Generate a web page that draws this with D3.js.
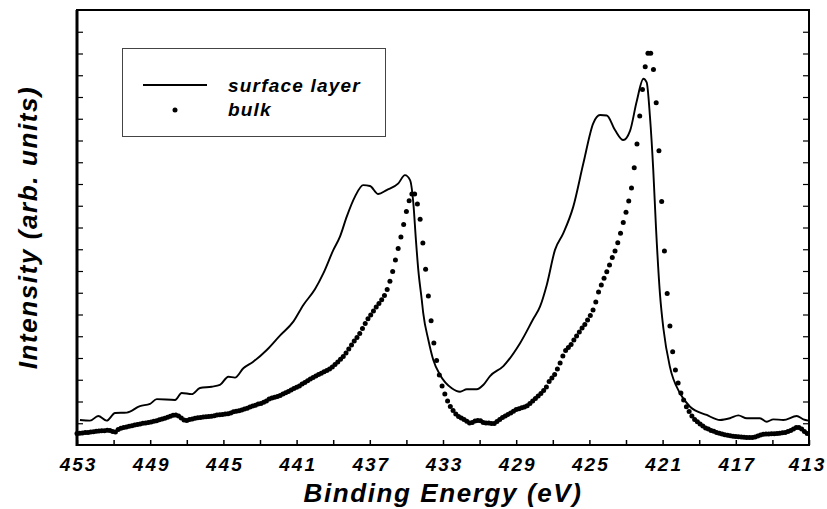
<!DOCTYPE html>
<html lang="en">
<head>
<meta charset="UTF-8">
<title>Binding energy spectrum</title>
<script src="https://cdn.jsdelivr.net/npm/d3@7"></script>
<style>
  body { margin: 0; background: #fff; }
  svg { display: block; }
  text { font-family: "Liberation Sans", Arial, sans-serif; font-weight: bold; font-style: italic; fill: #000; }
</style>
</head>
<body>
<svg></svg>
<script>
  // tick positions / labels (eV)
  const xTicks = [453, 451, 449, 447, 445, 443, 441, 439, 437, 435, 433, 431, 429, 427, 425, 423, 421, 419, 417, 415, 413]
  const xLabels = [453, 449, 445, 441, 437, 433, 429, 425, 421, 417, 413]
  const yTicks = [1, 2, 3, 4, 5, 6, 7, 8, 9, 10, 11, 12, 13, 14, 15, 16, 17, 18, 19]

  const seriesNames = ["surface layer", "bulk"]

  // surface layer
  const surfaceEnergy = [452.84, 452.29, 451.84, 451.38, 450.92, 450.28, 449.56, 449.01, 448.64, 447.64,
    447.28, 446.73, 446.28, 445.64, 445.19, 444.73, 444.37, 443.91, 443.37, 442.63,
    441.91, 441.18, 440.63, 439.99, 439.54, 438.99, 438.63, 438.26, 437.81, 437.36,
    436.99, 436.54, 436.08, 435.44, 435.08, 434.80, 434.62, 434.48, 434.35, 434.16,
    434.08, 433.80, 433.53, 433.16, 432.52, 432.07, 431.70, 431.16, 430.80, 430.43,
    429.70, 428.79, 428.07, 427.70, 427.33, 426.88, 426.43, 425.88, 425.33, 424.79,
    424.42, 424.05, 423.60, 423.15, 422.78, 422.42, 422.05, 421.87, 421.69, 421.51,
    421.36, 421.14, 420.96, 420.60, 420.05, 419.50, 418.59, 417.86, 417.32, 416.86,
    416.40, 415.68, 415.31, 414.95, 414.40, 413.67, 413.31, 413.04]
  const surfaceIntensity = [1.15, 1.12, 1.33, 1.12, 1.47, 1.49, 1.79, 1.89, 2.11, 2.07,
    2.39, 2.34, 2.62, 2.68, 2.76, 3.14, 3.10, 3.53, 3.83, 4.37,
    5.03, 5.67, 6.44, 7.17, 7.89, 8.97, 9.58, 10.50, 11.42, 11.95,
    11.91, 11.54, 11.72, 12.03, 12.41, 12.18, 11.11, 9.43, 8.05, 6.67,
    6.06, 4.83, 3.91, 3.22, 2.61, 2.45, 2.56, 2.56, 2.76, 3.17,
    3.63, 4.68, 5.79, 6.36, 7.36, 8.97, 9.73, 10.96, 12.95, 14.79,
    15.17, 15.15, 14.48, 14.02, 14.44, 15.78, 16.84, 16.67, 15.09, 12.64,
    9.98, 6.90, 5.38, 3.59, 2.38, 1.76, 1.38, 1.15, 1.23, 1.36,
    1.23, 1.23, 1.07, 1.18, 1.15, 1.33, 1.18, 1.12]

  // bulk: one dot per channel, channels 0.15 eV apart starting at 453 eV
  const bulkStart = 453, bulkStep = 0.15
  const bulkIntensity = [0.53, 0.54, 0.55, 0.57, 0.58, 0.60, 0.61, 0.63, 0.64, 0.65,
    0.66, 0.68, 0.67, 0.62, 0.60, 0.71, 0.77, 0.80, 0.83, 0.86,
    0.89, 0.92, 0.94, 0.97, 1.00, 1.01, 1.04, 1.06, 1.09, 1.12,
    1.16, 1.20, 1.23, 1.28, 1.32, 1.37, 1.38, 1.33, 1.24, 1.15,
    1.13, 1.17, 1.20, 1.23, 1.25, 1.27, 1.29, 1.30, 1.31, 1.32,
    1.35, 1.38, 1.39, 1.40, 1.43, 1.44, 1.47, 1.53, 1.55, 1.57,
    1.61, 1.66, 1.69, 1.75, 1.79, 1.83, 1.88, 1.91, 1.97, 2.02,
    2.11, 2.16, 2.19, 2.23, 2.28, 2.34, 2.40, 2.46, 2.53, 2.60,
    2.66, 2.71, 2.80, 2.87, 2.95, 3.03, 3.10, 3.17, 3.24, 3.30,
    3.37, 3.43, 3.49, 3.59, 3.70, 3.82, 3.94, 4.07, 4.23, 4.41,
    4.60, 4.78, 4.94, 5.13, 5.36, 5.59, 5.80, 5.98, 6.16, 6.34,
    6.51, 6.68, 6.87, 7.15, 7.53, 7.98, 8.51, 9.03, 9.56, 10.14,
    10.74, 11.23, 11.54, 11.54, 11.08, 10.38, 9.29, 8.08, 6.85, 5.71,
    4.69, 3.89, 3.22, 2.71, 2.34, 2.02, 1.77, 1.59, 1.43, 1.31,
    1.24, 1.17, 1.09, 1.01, 1.03, 1.10, 1.13, 1.12, 1.03, 1.01,
    1.01, 0.99, 0.99, 1.08, 1.17, 1.26, 1.33, 1.40, 1.47, 1.55,
    1.63, 1.67, 1.71, 1.75, 1.80, 1.91, 2.02, 2.14, 2.25, 2.37,
    2.51, 2.67, 2.92, 3.08, 3.24, 3.49, 3.77, 4.09, 4.34, 4.48,
    4.62, 4.83, 5.01, 5.20, 5.38, 5.54, 5.75, 5.95, 6.21, 6.57,
    7.03, 7.36, 7.67, 7.97, 8.28, 8.62, 8.92, 9.30, 9.73, 10.23,
    10.70, 11.22, 11.82, 12.75, 13.84, 15.13, 16.35, 17.39, 18.01, 18.01,
    17.27, 15.74, 13.53, 11.19, 8.92, 6.97, 5.47, 4.29, 3.45, 2.85,
    2.39, 2.07, 1.76, 1.54, 1.33, 1.17, 1.07, 0.97, 0.87, 0.78,
    0.74, 0.67, 0.63, 0.57, 0.54, 0.51, 0.47, 0.45, 0.42, 0.40,
    0.39, 0.38, 0.37, 0.36, 0.35, 0.35, 0.34, 0.37, 0.41, 0.46,
    0.49, 0.51, 0.51, 0.52, 0.52, 0.53, 0.54, 0.56, 0.58, 0.62,
    0.67, 0.74, 0.81, 0.80, 0.74, 0.62, 0.53]

  const surface = surfaceEnergy.map((e, i) => ({energy: e, value: surfaceIntensity[i]}))
  const bulk = bulkIntensity.map((v, i) => ({energy: bulkStart - i * bulkStep, value: v}))

  const width = 827, height = 509
  const margin = ({top: 10, right: 18, bottom: 64, left: 77})

  const svg = d3.select('svg')
      .attr('width', width)
      .attr('height', height)

  const x = d3.scaleLinear()
      .domain([453, 413])
      .range([margin.left, width - margin.right])

  const y = d3.scaleLinear()
      .domain([0, 20])
      .range([height - margin.bottom, margin.top])

  const xAxis = g => g
      .attr("transform", `translate(0,${height - margin.bottom})`)
      .call(d3.axisBottom(x)
          .tickValues(xTicks)
          .tickSize(-5)
          .tickPadding(13)
          .tickFormat(d => xLabels.includes(d) ? d : ""))
      .call(g => g.select(".domain").remove())
      .call(g => g.selectAll(".tick line").attr("stroke-width", 1.5))
      .call(g => g.selectAll(".tick text")
          .attr("font-family", null)
          .attr("font-size", 19)
          .attr("letter-spacing", 2)
          .attr("dx", d => d === 413 ? -2 : 1))

  const yAxisLeft = g => g
      .attr("transform", `translate(${margin.left},0)`)
      .call(d3.axisLeft(y).tickValues(yTicks).tickSize(-6).tickFormat(""))
      .call(g => g.select(".domain").remove())
      .call(g => g.selectAll(".tick line").attr("stroke-width", 1.2))

  const yAxisRight = g => g
      .attr("transform", `translate(${width - margin.right},0)`)
      .call(d3.axisRight(y).tickValues(yTicks).tickSize(-6).tickFormat(""))
      .call(g => g.select(".domain").remove())
      .call(g => g.selectAll(".tick line").attr("stroke-width", 1.2))

  svg.append("g").call(xAxis)
  svg.append("g").call(yAxisLeft)
  svg.append("g").call(yAxisRight)

  // frame
  svg.append("rect")
      .attr("x", margin.left)
      .attr("y", margin.top)
      .attr("width", width - margin.left - margin.right)
      .attr("height", height - margin.top - margin.bottom)
      .attr("fill", "none")
      .attr("stroke", "#000")
      .attr("stroke-width", 2)
  svg.append("line")
      .attr("x1", margin.left).attr("x2", margin.left)
      .attr("y1", margin.top).attr("y2", height - margin.bottom + 1)
      .attr("stroke", "#000")
      .attr("stroke-width", 3)

  const line = d3.line()
      .x(d => x(d.energy))
      .y(d => y(d.value))
      .curve(d3.curveMonotoneX)

  svg.append("path")
      .datum(surface)
      .attr("fill", "none")
      .attr("stroke", "#000")
      .attr("stroke-width", 1.9)
      .attr("stroke-linejoin", "round")
      .attr("d", line)

  svg.append("g")
      .selectAll("circle")
      .data(bulk)
      .join("circle")
      .attr("cx", d => x(d.energy))
      .attr("cy", d => y(d.value))
      .attr("r", 2.5)
      .attr("fill", "#000")

  // legend
  const legend = svg.append("g")
  legend.append("rect")
      .attr("x", 122.5).attr("y", 48.5)
      .attr("width", 263).attr("height", 88)
      .attr("fill", "#fff")
      .attr("stroke", "#444")
      .attr("stroke-width", 1)
  legend.append("line")
      .attr("x1", 143).attr("x2", 207)
      .attr("y1", 85).attr("y2", 85)
      .attr("stroke", "#000")
      .attr("stroke-width", 2)
  legend.append("circle")
      .attr("cx", 175).attr("cy", 110)
      .attr("r", 2.5)
      .attr("fill", "#000")
  legend.selectAll("text.name")
      .data(seriesNames)
      .join("text")
      .attr("class", "name")
      .attr("x", 228)
      .attr("y", (d, i) => 92 + i * 24)
      .attr("font-size", 19)
      .attr("letter-spacing", 1.2)
      .text(d => d)

  // axis titles
  svg.append("text")
      .attr("x", (margin.left + width - margin.right) / 2)
      .attr("y", 502)
      .attr("text-anchor", "middle")
      .attr("font-size", 26)
      .attr("letter-spacing", 1.6)
      .text("Binding Energy (eV)")

  svg.append("text")
      .attr("transform", `translate(37,${(margin.top + height - margin.bottom) / 2}) rotate(-90)`)
      .attr("text-anchor", "middle")
      .attr("font-size", 26)
      .attr("letter-spacing", 1.6)
      .text("Intensity (arb. units)")
</script>
</body>
</html>
